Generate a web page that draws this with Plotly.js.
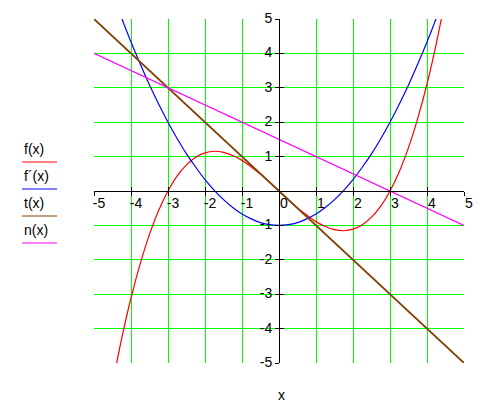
<!DOCTYPE html>
<html>
<head>
<meta charset="utf-8">
<script src="https://cdn.plot.ly/plotly-3.0.1.min.js"></script>
<style>html,body{margin:0;padding:0;background:#fff;}#plot{width:490px;height:402px;}</style>
</head>
<body>
<div id="plot"></div>
<script>
// sampled x positions
const xs = [-4.5,-4.25,-4,-3.75,-3.5,-3.25,-3,-2.75,-2.5,-2.25,-2,-1.75,-1.5,-1.25,-1,-0.75,-0.5,-0.25,0,
            0.25,0.5,0.75,1,1.25,1.5,1.75,2,2.25,2.5,2.75,3,3.25,3.5,3.75,4,4.25,4.5];
// f(x) values
const fVals = [-5.63,-4.28,-3.11,-2.11,-1.26,-0.56,0,0.44,0.76,0.98,1.11,1.155,1.125,1.03,0.89,0.70,0.49,0.25,0,
               -0.25,-0.49,-0.70,-0.89,-1.03,-1.125,-1.155,-1.11,-0.98,-0.76,-0.44,0,0.56,1.26,2.11,3.11,4.28,5.63];
// f'(x) values
const dVals = [5.75,5.02,4.33,3.69,3.08,2.52,2,1.52,1.08,0.69,0.33,0.02,-0.25,-0.48,-0.67,-0.81,-0.92,-0.98,-1,
               -0.98,-0.92,-0.81,-0.67,-0.48,-0.25,0.02,0.33,0.69,1.08,1.52,2,2.52,3.08,3.69,4.33,5.02,5.75];
// t(x) (brown) and n(x) (magenta) end points
const tX = [-5, 5], tY = [5, -5];
const nX = [-5, 5], nY = [4, -1];
// legend labels and tick labels
const names = ["f(x)", "f\u00B4(x)", "t(x)", "n(x)"];
const colors = ["#ff0000", "#0000ff", "#804000", "#ff00ff"];
const tickVals = [-5,-4,-3,-2,-1,0,1,2,3,4,5];
const xTickText = ["-5","-4","-3","-2","-1","0","1","2","3","4","5"];
const yTickText = ["-5","-4","-3","-2","-1","","1","2","3","4","5"];

const FONT = "Liberation Sans, Arial, sans-serif";
const traces = [
  {x: xs, y: fVals, mode: "lines", line: {color: colors[0], width: 1.2, shape: "spline"}},
  {x: xs, y: dVals, mode: "lines", line: {color: colors[1], width: 1.2, shape: "spline"}},
  {x: tX, y: tY, mode: "lines", line: {color: colors[2], width: 1.8}},
  {x: nX, y: nY, mode: "lines", line: {color: colors[3], width: 1.2}},
  {x: [null], y: [null], xaxis: "x2", yaxis: "y2", mode: "lines", hoverinfo: "skip"}
];

const L = 94, R = 26, T = 19, B = 39, W = 490, H = 402;
const pw = W - L - R, ph = H - T - B;
const px2x = p => (p - L) / pw;
const py2y = p => (H - B - p) / ph;

const legendY = [149, 176, 203, 230];
const lineY = [162, 189, 216, 243];
const annotations = names.map((n, i) => ({
  xref: "paper", yref: "paper", x: px2x(22), y: py2y(legendY[i]),
  xanchor: "left", yanchor: "middle", text: n, showarrow: false,
  font: {family: FONT, size: 14, color: "#000"}
}));
annotations.push({xref: "paper", yref: "paper", x: px2x(281), y: py2y(395), xanchor: "center", yanchor: "middle",
  text: "x", showarrow: false, font: {family: FONT, size: 14, color: "#000"}});
const shapes = colors.map((c, i) => ({
  type: "line", xref: "paper", yref: "paper", x0: px2x(22), x1: px2x(57),
  y0: py2y(lineY[i]), y1: py2y(lineY[i]), line: {color: c, width: 1}
}));

const axBase = {
  range: [-5, 5], autorange: false, fixedrange: true,
  tickmode: "array", tickvals: tickVals,
  tickfont: {family: FONT, size: 14, color: "#000"},
  ticks: "outside", ticklen: 4, tickcolor: "#000", tickwidth: 1,
  showgrid: true, gridcolor: "#00ff00", gridwidth: 1,
  zeroline: false, showline: true, linecolor: "#000", linewidth: 1,
  anchor: "free", position: 0.5
};
const layout = {
  width: W, height: H,
  margin: {l: L, r: R, t: T, b: B},
  paper_bgcolor: "#fff", plot_bgcolor: "#fff",
  showlegend: false,
  xaxis: Object.assign({}, axBase, {ticktext: xTickText, ticklabelshift: 5, ticklabelstandoff: -5}),
  yaxis: Object.assign({}, axBase, {ticktext: yTickText, ticklabelshift: -1}),
  xaxis2: {range: [-5, 5], overlaying: "x", anchor: "free", position: 0.5, tickmode: "array", tickvals: tickVals,
    ticks: "inside", ticklen: 4, tickcolor: "#000", showticklabels: false, showgrid: false, zeroline: false, showline: false},
  yaxis2: {range: [-5, 5], overlaying: "y", anchor: "free", position: 0.5, tickmode: "array", tickvals: tickVals,
    ticks: "inside", ticklen: 4, tickcolor: "#000", showticklabels: false, showgrid: false, zeroline: false, showline: false},
  annotations: annotations,
  shapes: shapes,
  hovermode: false
};
Plotly.newPlot("plot", traces, layout, {staticPlot: true, displayModeBar: false});
</script>
</body>
</html>
